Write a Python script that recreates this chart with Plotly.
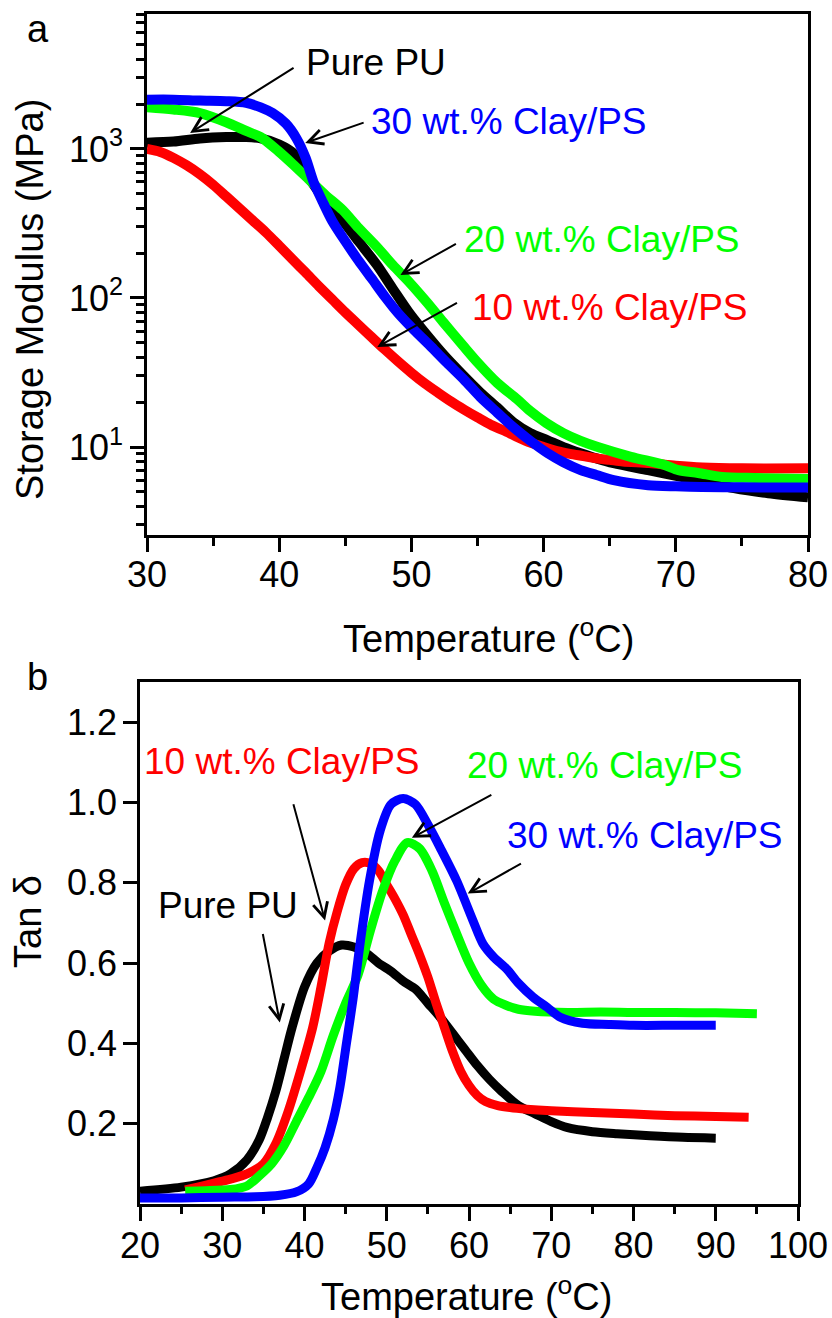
import plotly.graph_objects as go

# ---------------- Panel a: storage modulus (MPa) vs temperature ----------------
t_pu_a = [30, 32, 34, 36, 37.5, 38.6, 40.0, 41.1, 42.3, 43.5, 44.8, 46.0, 47.4, 48.6, 49.9, 51.2, 52.5,
          53.8, 55.2, 56.5, 57.7, 59.0, 60.3, 61.5, 62.8, 64.0, 65.3, 67.9, 70.4, 72.0, 74.4, 77, 80]
e_pu_a = [1100, 1120, 1175, 1200, 1200, 1175, 1070, 930, 630, 447, 331, 240, 166, 115, 78, 56, 41,
          31, 23.3, 18.4, 14.7, 12.4, 11.1, 10.0, 9.1, 8.4, 7.8, 7.0, 6.3, 5.9, 5.3, 4.9, 4.6]

t_10_a = [30, 31, 32, 33, 34, 35, 36, 37, 38, 39, 40, 41, 42, 43, 44, 45, 46, 47, 48, 49, 50, 51, 52,
          53, 54, 55, 56, 57, 58, 59, 60, 61, 62, 63, 64, 65, 66, 68, 70, 72, 75, 80]
e_10_a = [1000, 955, 871, 776, 676, 575, 479, 398, 331, 275, 224, 182, 148, 120, 98, 80, 66, 54.5, 45,
          37.5, 31.5, 26.8, 23.2, 20.2, 17.8, 15.8, 14.1, 12.9, 11.7, 10.7, 10.0, 9.4, 9.0, 8.7, 8.4,
          8.2, 8.0, 7.8, 7.5, 7.3, 7.2, 7.2]

t_20_a = [30, 32, 34, 36, 37.5, 38.6, 40.0, 41.0, 42.3, 43.5, 44.8, 46.0, 47.4, 48.6, 49.9, 51.2, 52.4,
          53.9, 55.0, 56.5, 58.0, 59.0, 60.2, 61.5, 62.8, 64.1, 66.6, 69.1, 70.2, 71.7, 73.5, 76, 80]
e_20_a = [1905, 1840, 1740, 1510, 1320, 1200, 955, 794, 617, 490, 389, 295, 219, 166, 126, 93, 69,
          48, 37, 26.9, 20.9, 17.4, 14.5, 12.4, 11.0, 10.0, 8.6, 7.6, 7.0, 6.7, 6.3, 6.2, 6.1]

t_30_a = [30, 32, 34, 36, 37.5, 38.6, 39.5, 40.5, 41.3, 42.0, 42.6, 43.3, 44.0, 45.0, 46.0, 47.0, 48.0,
          49.0, 50.2, 51.5, 52.7, 54.0, 55.2, 56.5, 57.7, 59.0, 60.3, 61.5, 62.8, 64.0, 65.3, 67.9, 70,
          72, 75, 78, 80]
e_30_a = [2140, 2140, 2110, 2090, 2040, 1900, 1740, 1480, 1180, 870, 600, 440, 330, 240, 178, 135, 102,
          79, 61, 47, 36.6, 28.2, 21.7, 17.0, 13.6, 11.0, 9.1, 7.9, 7.0, 6.5, 6.0, 5.55, 5.45, 5.4,
          5.37, 5.35, 5.35]

# ---------------- Panel b: tan delta vs temperature ----------------
t_pu_b = [20, 25, 29, 31, 33, 34.5, 35.5, 36.5, 37.5, 38.5, 40, 41.5, 43, 44.5, 46, 47.5, 49, 50.5, 52,
          53.5, 55, 56.5, 58, 59.5, 61, 62.5, 64, 66, 68, 70, 72, 75, 78, 82, 86, 90]
d_pu_b = [0.032, 0.042, 0.058, 0.075, 0.11, 0.16, 0.215, 0.28, 0.36, 0.44, 0.54, 0.60, 0.63, 0.645,
          0.64, 0.625, 0.60, 0.58, 0.555, 0.535, 0.50, 0.465, 0.425, 0.385, 0.345, 0.31, 0.28, 0.245,
          0.225, 0.205, 0.19, 0.18, 0.175, 0.17, 0.166, 0.164]

t_10_b = [25.5, 27, 29, 31, 33, 35, 36.5, 38, 39.5, 41, 42, 43, 44, 45, 46, 47, 48, 49, 50, 51, 52, 53,
          54, 55, 56, 57, 58, 59, 60, 61, 62, 63.5, 65, 67, 70, 75, 80, 85, 90, 94]
d_10_b = [0.035, 0.042, 0.052, 0.062, 0.075, 0.10, 0.15, 0.23, 0.33, 0.44, 0.54, 0.65, 0.73, 0.795,
          0.835, 0.85, 0.848, 0.83, 0.795, 0.76, 0.72, 0.67, 0.62, 0.565, 0.50, 0.44, 0.38, 0.33, 0.295,
          0.27, 0.255, 0.245, 0.24, 0.236, 0.232, 0.228, 0.224, 0.22, 0.218, 0.216]

t_20_b = [25.5, 28, 31, 33, 34.5, 36, 37.5, 39, 40.5, 42, 43.5, 45, 46.5, 48, 49.5, 51, 52.5, 54, 55.5,
          57, 58.5, 60, 61.5, 63, 64.5, 66, 68, 72, 76, 80, 85, 90, 95]
d_20_b = [0.032, 0.033, 0.036, 0.045, 0.07, 0.10, 0.145, 0.205, 0.265, 0.33, 0.42, 0.50, 0.57, 0.68,
          0.78, 0.855, 0.90, 0.885, 0.83, 0.75, 0.673, 0.60, 0.545, 0.51, 0.495, 0.485, 0.48, 0.477,
          0.478, 0.477, 0.477, 0.476, 0.474]

t_30_b = [20, 25, 30, 34, 37, 39, 40.5, 41.5, 42.5, 43.5, 44.3, 45.1, 45.9, 46.7, 47.9, 49.2, 50.5, 52,
          53.5, 55, 56.5, 58.5, 60.5, 61.7, 63, 64.6, 66, 67.8, 69.5, 71.1, 73.8, 77, 80, 85, 90]
d_30_b = [0.015, 0.015, 0.017, 0.018, 0.022, 0.03, 0.05, 0.09, 0.14, 0.21, 0.29, 0.40, 0.51, 0.64,
          0.805, 0.93, 0.995, 1.01, 0.995, 0.945, 0.887, 0.805, 0.705, 0.648, 0.615, 0.585, 0.55, 0.515,
          0.49, 0.465, 0.45, 0.447, 0.445, 0.445, 0.445]

series_names = ["Pure PU", "10 wt.% Clay/PS", "20 wt.% Clay/PS", "30 wt.% Clay/PS"]
series_colors = ["#000000", "#FF0000", "#00FF00", "#0000FF"]

# axis ticks
xa_major = [30, 40, 50, 60, 70, 80]
xa_minor = [35, 45, 55, 65, 75]
ya_major = [10, 100, 1000]
ya_labels = ["10<sup>1</sup>", "10<sup>2</sup>", "10<sup>3</sup>"]
ya_minor = [v * 10 ** k for k in range(0, 4) for v in range(2, 10)]
xb_major = [20, 30, 40, 50, 60, 70, 80, 90, 100]
xb_minor = [25, 35, 45, 55, 65, 75, 85, 95]
yb_major = [0.2, 0.4, 0.6, 0.8, 1.0, 1.2]
yb_labels = ["0.2", "0.4", "0.6", "0.8", "1.0", "1.2"]

FONT = "Liberation Sans, Arial, sans-serif"
LW = 10

fig = go.Figure()
panel_a = [(t_pu_a, e_pu_a), (t_10_a, e_10_a), (t_20_a, e_20_a), (t_30_a, e_30_a)]
panel_b = [(t_pu_b, d_pu_b), (t_10_b, d_10_b), (t_20_b, d_20_b), (t_30_b, d_30_b)]
for (tx, ty), name, col in zip(panel_a, series_names, series_colors):
    fig.add_trace(go.Scatter(x=tx, y=ty, mode="lines", name=name,
                             line=dict(color=col, width=LW, shape="spline", smoothing=0.8),
                             xaxis="x", yaxis="y", showlegend=False))
for (tx, ty), name, col in zip(panel_b, series_names, series_colors):
    fig.add_trace(go.Scatter(x=tx, y=ty, mode="lines", name=name,
                             line=dict(color=col, width=LW - 1, shape="spline", smoothing=0.8),
                             xaxis="x2", yaxis="y2", showlegend=False))

W, H = 832, 1318
axis_common = dict(showline=True, linecolor="black", linewidth=2.5, mirror=True, ticks="outside",
                   ticklen=14, tickwidth=2.5, tickcolor="black", showgrid=False, zeroline=False,
                   automargin=False, fixedrange=True, tickfont=dict(family=FONT, size=36, color="black"))
mirror_common = dict(showline=False, ticks="outside", ticklen=4, tickwidth=1.5, tickcolor="black",
                     showticklabels=False, showgrid=False, zeroline=False, automargin=False, fixedrange=True)

def minor(vals, ln):
    return dict(tickvals=vals, ticklen=ln, tickwidth=2.5, ticks="outside", tickcolor="black")

dom_xa = [147 / W, 808 / W]
dom_ya = [1 - 535 / H, 1 - 14 / H]
dom_xb = [140 / W, 798 / W]
dom_yb = [1 - 1204 / H, 1 - 682 / H]

fig.update_layout(
    template="none",
    width=W, height=H, margin=dict(l=0, r=0, t=0, b=0, pad=0),
    paper_bgcolor="white", plot_bgcolor="white", showlegend=False,
    xaxis=dict(domain=dom_xa, anchor="y", range=[30, 80], tickvals=xa_major, minor=minor(xa_minor, 8),
               ticklabelstandoff=-8, **axis_common),
    yaxis=dict(domain=dom_ya, anchor="x", type="log", range=[0.41, 3.905], tickvals=ya_major,
               ticktext=ya_labels, minor=minor(ya_minor, 8), ticklabelstandoff=0, **axis_common),
    xaxis2=dict(domain=dom_xb, anchor="y2", range=[20, 100], tickvals=xb_major, minor=minor(xb_minor, 7),
                ticklabelstandoff=-6, **axis_common),
    yaxis2=dict(domain=dom_yb, anchor="x2", range=[0, 1.3], tickvals=yb_major, ticktext=yb_labels,
                ticklabelstandoff=-1, **axis_common),
    # small mirrored ticks on the top and right frame edges
    xaxis3=dict(overlaying="x", side="top", anchor="y", range=[30, 80], tickvals=xa_major + xa_minor,
                **mirror_common),
    yaxis3=dict(overlaying="y", side="right", anchor="x", type="log", range=[0.41, 3.905],
                tickvals=ya_major + ya_minor, **mirror_common),
    xaxis4=dict(overlaying="x2", side="top", anchor="y2", range=[20, 100], tickvals=xb_major + xb_minor,
                **mirror_common),
    yaxis4=dict(overlaying="y2", side="right", anchor="x2", range=[0, 1.3], tickvals=yb_major,
                **mirror_common),
)

ann = []
AF = 37
arrow_style = dict(showarrow=True, arrowhead=5, arrowsize=1.45, arrowwidth=2.0, arrowcolor="black",
                   text="", standoff=0)

# panel a: arrows (head x,y ; tail ax,ay) in data units (log10 for y)
arrows_a = [(33.26, 3.107, 41.2, 3.55), (41.97, 3.04, 46.5, 3.18),
            (49.17, 2.154, 53.48, 2.369), (47.42, 1.671, 53.56, 1.973)]
for hx, hy, tx, ty in arrows_a:
    ann.append(dict(x=hx, y=hy, ax=tx, ay=ty, xref="x", yref="y", axref="x", ayref="y", **arrow_style))
labels_a = [("Pure PU", 41.9, 3.577, "#000000"), ("30 wt.% Clay/PS", 46.8, 3.181, "#0000FF"),
            ("20 wt.% Clay/PS", 53.85, 2.389, "#00FF00"), ("10 wt.% Clay/PS", 54.4, 1.933, "#FF0000")]
for txt, x, y, col in labels_a:
    ann.append(dict(x=x, y=y, xref="x", yref="y", text=txt, showarrow=False, xanchor="left",
                    yanchor="middle", font=dict(family=FONT, size=AF, color=col)))

arrows_b = [(42.5, 0.706, 38.6, 0.999), (37.0, 0.452, 34.9, 0.676),
            (53.05, 0.912, 62.9, 1.021), (59.85, 0.773, 66.5, 0.85)]
for hx, hy, tx, ty in arrows_b:
    ann.append(dict(x=hx, y=hy, ax=tx, ay=ty, xref="x2", yref="y2", axref="x2", ayref="y2", **arrow_style))
labels_b = [("10 wt.% Clay/PS", 20.2, 1.103, "#FF0000"), ("Pure PU", 22.0, 0.743, "#000000"),
            ("20 wt.% Clay/PS", 59.55, 1.091, "#00FF00"), ("30 wt.% Clay/PS", 64.4, 0.917, "#0000FF")]
for txt, x, y, col in labels_b:
    ann.append(dict(x=x, y=y, xref="x2", yref="y2", text=txt, showarrow=False, xanchor="left",
                    yanchor="middle", font=dict(family=FONT, size=AF, color=col)))

# axis titles and panel letters
TF = 38
titles = [
    ("Temperature (<sup>o</sup>C)", 488 / W, 1 - 636 / H, 0),
    ("Temperature (<sup>o</sup>C)", 466 / W, 1 - 1294 / H, 0),
    ("Storage Modulus (MPa)", 30 / W, 1 - 300 / H, -90),
    ("Tan δ", 28 / W, 1 - 922 / H, -90),
    ("a", 38 / W, 1 - 29 / H, 0),
    ("b", 37 / W, 1 - 677 / H, 0),
]
for txt, x, y, ang in titles:
    ann.append(dict(x=x, y=y, xref="paper", yref="paper", text=txt, showarrow=False, textangle=ang,
                    xanchor="center", yanchor="middle", font=dict(family=FONT, size=TF, color="black")))

fig.update_layout(annotations=ann)
fig.write_html("out.html", config={"displayModeBar": False},
               post_script="document.body.style.margin='0';document.body.style.padding='0';"
                           "document.body.style.overflow='hidden';")
